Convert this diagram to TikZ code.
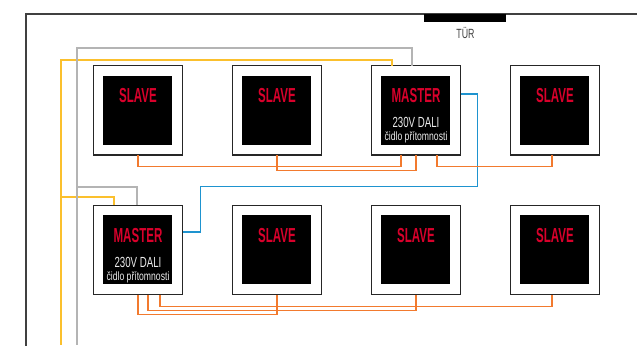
\documentclass[tikz,border=0pt]{standalone}
\usepackage{fontspec}
\setmainfont{Liberation Sans}
\newfontfamily\fslave[FakeStretch=0.57]{Liberation Sans Bold}
\newfontfamily\fdali[FakeStretch=0.66]{Liberation Sans}
\newfontfamily\fcidlo[FakeStretch=0.72]{Liberation Sans}
\usetikzlibrary{calc}
\definecolor{wred}{HTML}{D8002B}
\definecolor{worange}{HTML}{F27A2E}
\definecolor{wyellow}{HTML}{FBC02D}
\definecolor{wgray}{HTML}{B4B4B4}
\definecolor{wblue}{HTML}{1E93CF}
\tikzset{
  panel/.style={draw=black!85,fill=white,line width=1pt,minimum size=67pt,inner sep=0pt,outer sep=0pt},
  core/.style={fill=black,minimum size=51.75pt,inner sep=0pt,outer sep=0pt},
  headlabel/.style={text=wred,font=\fslave\fontsize{15.2}{15.2}\selectfont,inner sep=0pt},
  dalilabel/.style={text=black!8,font=\fdali\fontsize{11}{11}\selectfont,inner sep=0pt},
  cidlolabel/.style={text=black!8,font=\fcidlo\fontsize{9}{9}\selectfont,inner sep=0pt},
  wall/.style={draw=black!75,line width=1.1pt},
  wireo/.style={draw=worange,line width=.95pt},
  wirey/.style={draw=wyellow,line width=.95pt},
  wireg/.style={draw=wgray,line width=.95pt},
  wireb/.style={draw=wblue,line width=.95pt},
}
\newcommand{\panelbox}[4]{%
  \node[panel] (#1) at (#2,#3) {};
  \node[core] (#1c) at ($(#1.center)+(-.5,0)$) {};
  \node[headlabel] (#1h) at ($(#1.center)+(0,-14.5)$) {#4};
}
\newcommand{\masterinfo}[1]{%
  \node[dalilabel] (#1d) at ($(#1.center)+(0,12)$) {230V DALI};
  \node[cidlolabel] (#1t) at ($(#1.center)+(0,27)$) {čidlo přítomnosti};
}
\begin{document}
\begin{tikzpicture}[x=0.75pt,y=-0.75pt]
\useasboundingbox (0,0) rectangle (637,346);
\fill[white] (0,0) rectangle (637,346);
% room
\coordinate (wallr) at (637,14);
\coordinate (wallc) at (26,14);
\coordinate (wallb) at (26,346);
\draw[wall] (wallr) -- (wallc) -- (wallb);
\node[fill=black,minimum width=61.5pt,minimum height=6pt,inner sep=0pt,outer sep=0pt] (door) at (465,18) {};
\node[inner sep=0pt,text=black!75,font=\fdali\fontsize{10}{10}\selectfont] (turlabel) at (465.5,33) {TÜR};
% panels (placed first so that connectors can name them)
\panelbox{s1}{138}{110.5}{SLAVE}
\panelbox{s2}{277}{110.5}{SLAVE}
\panelbox{m1}{416}{110.5}{MASTER}
\panelbox{s4}{555}{110.5}{SLAVE}
\panelbox{m2}{138}{250}{MASTER}
\panelbox{s5}{277}{250}{SLAVE}
\panelbox{s6}{416}{250}{SLAVE}
\panelbox{s7}{555}{250}{SLAVE}
\masterinfo{m1}
\masterinfo{m2}
% free ends of the risers
\coordinate (yb) at (61,345);
\coordinate (gb) at (77,345);
% yellow
\draw[wirey] (yb) |- ($(m1.north)+(-24,-5.7)$) -- ($(m1.north)+(-24,0)$);
\draw[wirey] ($(yb)+(0,-148)$) -| ($(m2.north)+(-24,0)$);
% gray
\draw[wireg] (gb) |- ($(m1.north)+(-4,-17.7)$) -- ($(m1.north)+(-4,0)$);
\draw[wireg] ($(gb)+(0,-158)$) -| ($(m2.north)+(-1,0)$);
% blue
\draw[wireb] ($(m1.east)+(0,-16.5)$) -- ++(16.7,0) |- ($(m2.east)+(18,-63.2)$) |- ($(m2.east)+(0,-18)$);
% orange, top row
\draw[wireo] (s1.south) -- ++(0,11.7) -| ($(m1.south)+(-15,0)$);
\draw[wireo] (s2.south) -- ++(0,15.7) -| (m1.south);
\draw[wireo] ($(m1.south)+(21,0)$) -- ++(0,11.7) -| ($(s4.south)+(-3,0)$);
% orange, bottom row
\draw[wireo] (m2.south) -- ++(0,19.5) -| (s5.south);
\draw[wireo] ($(m2.south)+(10,0)$) -- ++(0,15.5) -| (s6.south);
\draw[wireo] ($(m2.south)+(22,0)$) -- ++(0,11.5) -| ($(s7.south)+(-3,0)$);
\end{tikzpicture}
\end{document}
